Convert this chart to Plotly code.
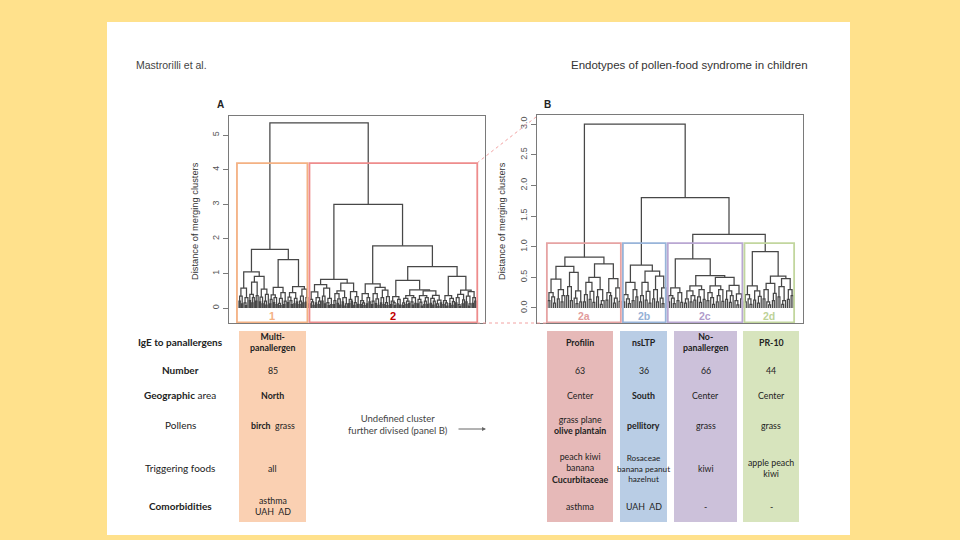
import plotly.graph_objects as go

W, H = 960, 540

# ---------------- data ----------------
header_left = "Mastrorilli et al."
header_right = "Endotypes of pollen-food syndrome in children"

# dendrogram trees: [merge height, left, right]; 0 = single leaf
cluster1_tree = [1.7,
    [1.05,
        [0.58, [0.35, [0.2, 0, 0], [0.12, 0, 0]], [0.3, [0.15, 0, [0.07, 0, 0]], 0]],
        [0.92,
            [0.75, [0.4, [0.22, 0, 0], [0.3, [0.15, 0, 0], 0]], [0.36, [0.2, 0, 0], 0]],
            [0.55, [0.32, [0.18, 0, 0], [0.12, 0, 0]], [0.4, [0.2, 0, [0.09, 0, 0]], 0]]]],
    [1.4,
        [0.6,
            [0.38, [0.25, [0.12, 0, 0], 0], [0.3, [0.16, 0, 0], [0.1, 0, 0]]],
            [0.45, [0.28, [0.14, 0, [0.07, 0, 0]], 0], [0.2, [0.1, 0, 0], 0]]],
        [0.62,
            [0.45, [0.32, [0.16, 0, 0], [0.22, 0, [0.1, 0, 0]]], [0.28, [0.12, 0, 0], [0.18, 0, 0]]],
            [0.55, [0.35, [0.2, [0.1, 0, 0], 0], [0.15, 0, 0]], [0.3, [0.17, 0, 0], 0]]]]]

tree_2a = [0.83,
    [0.68,
        [0.47, [0.25, [0.12, 0, 0], [0.18, 0, [0.08, 0, 0]]], [0.3, [0.15, 0, 0], [0.2, [0.1, 0, 0], 0]]],
        [0.58, [0.35, [0.2, 0, 0], [0.12, 0, 0]], [0.28, [0.16, 0, [0.07, 0, 0]], [0.1, 0, 0]]]],
    [0.72,
        [0.5, [0.42, [0.22, [0.1, 0, 0], 0], [0.27, [0.14, 0, 0], [0.09, 0, 0]]], [0.3, [0.18, 0, 0], [0.12, [0.06, 0, 0], 0]]],
        [0.48, [0.25, [0.13, 0, 0], [0.2, 0, 0]], [0.33, [0.16, [0.08, 0, 0], 0], [0.11, 0, 0]]]]]

tree_2b = [0.7,
    [0.42, [0.22, [0.1, 0, 0], [0.15, 0, [0.07, 0, 0]]], [0.3, [0.12, 0, 0], [0.18, 0, 0]]],
    [0.6,
        [0.42, [0.2, [0.1, 0, 0], 0], [0.27, [0.13, 0, 0], [0.08, 0, 0]]],
        [0.52, [0.3, [0.15, 0, 0], [0.1, 0, 0]], [0.33, [0.16, 0, [0.07, 0, 0]], 0]]]]

tree_2c = [0.8,
    [0.33, [0.2, [0.1, 0, 0], [0.16, 0, [0.07, 0, 0]]], [0.25, [0.12, 0, 0], [0.09, 0, 0]]],
    [0.53,
        [0.36, [0.28, [0.15, [0.08, 0, 0], 0], [0.2, [0.1, 0, 0], [0.13, 0, 0]]], [0.3, [0.18, 0, [0.09, 0, 0]], [0.14, 0, 0]]],
        [0.5,
            [0.36, [0.25, [0.12, 0, 0], [0.17, 0, [0.06, 0, 0]]], [0.3, [0.2, [0.1, 0, 0], 0], [0.11, 0, 0]]],
            [0.37, [0.28, [0.14, 0, 0], [0.2, [0.09, 0, 0], 0]], [0.23, [0.12, 0, [0.05, 0, 0]], [0.15, 0, 0]]]]]]

tree_2d = [0.92,
    [0.36, [0.22, [0.1, 0, 0], [0.15, 0, [0.06, 0, 0]]], [0.28, [0.13, 0, 0], [0.19, [0.08, 0, 0], 0]]],
    [0.52,
        [0.4, [0.3, [0.15, 0, 0], [0.1, 0, [0.05, 0, 0]]], [0.24, [0.12, 0, 0], 0]],
        [0.48, [0.35, [0.18, 0, 0], [0.12, [0.06, 0, 0], 0]], [0.3, [0.14, 0, 0], [0.2, 0, 0]]]]]

cluster2_tree = [3.0, tree_2a, [1.8, tree_2b, [1.2, tree_2c, tree_2d]]]
root_height_A = 5.35

yticks_A = [0, 1, 2, 3, 4, 5]
yticks_B = [0.0, 0.5, 1.0, 1.5, 2.0, 2.5, 3.0]
cut_height_A = 4.19
cut_height_B = 1.06
y_title = "Distance of merging clusters"

row_labels = ["<b>IgE to panallergens</b>", "<b>Number</b>", "<b>Geographic</b> area",
              "Pollens", "Triggering foods", "<b>Comorbidities</b>"]
cluster_names = ["1", "2a", "2b", "2c", "2d"]
panallergen = ["<b>Multi-<br>panallergen</b>", "<b>Profilin</b>", "<b>nsLTP</b>",
               "<b>No-<br>panallergen</b>", "<b>PR-10</b>"]
counts = [85, 63, 36, 66, 44]
geo = ["<b>North</b>", "Center", "<b>South</b>", "Center", "Center"]
pollens = ["<b>birch</b>  grass", "grass plane<br><b>olive plantain</b>", "<b>pellitory</b>", "grass", "grass"]
foods = ["all", "peach kiwi<br>banana<br><b>Cucurbitaceae</b>", "Rosaceae<br>banana peanut<br>hazelnut",
         "kiwi", "apple peach<br>kiwi"]
comorb = ["asthma<br>UAH  AD", "asthma", "UAH  AD", "-", "-"]
undefined_text = "Undefined cluster<br>further divised (panel B)"

# ---------------- styles ----------------
BG = "#FFE18C"
col_fill = ["#FAD0B2", "#E6B9B8", "#B9CDE5", "#CCC1DA", "#D7E4BD"]
box_col = {"1": "#F4B183", "2": "#EE8C8C", "2a": "#E6A3A3", "2b": "#98B4D9", "2c": "#B9A7D2", "2d": "#C2D69E"}
lab_col = {"1": "#F4B183", "2": "#C00000", "2a": "#E29C9C", "2b": "#95B1D6", "2c": "#B09CCB", "2d": "#BDD297"}
LINE = "#474747"
FRAME = "#7a7a7a"
TXT = "#222222"


def px(x):
    return x / W


def py(y):
    return 1 - y / H


def n_leaves(t):
    if not isinstance(t, list):
        return 1
    return n_leaves(t[1]) + n_leaves(t[2])


def segments(tree):
    xs, ys = [], []
    cnt = [0]

    def rec(node):
        if not isinstance(node, list):
            x = cnt[0]
            cnt[0] += 1
            return x, 0.0
        h, a, b = node
        xa, ha = rec(a)
        xb, hb = rec(b)
        xs.extend([xa, xa, xb, xb, None])
        ys.extend([ha, h, h, hb, None])
        return (xa + xb) / 2, h

    rec(tree)
    return xs, ys


def note(x, y, text, size, color="#2b2b2b", family="Liberation Sans", xanchor="center", xref="paper",
         yref="paper", **kw):
    return dict(xref=xref, yref=yref, x=x, y=y, text=text, showarrow=False, xanchor=xanchor,
                yanchor="middle", align="center", font=dict(size=size, color=color, family=family), **kw)


tree_A = [root_height_A, cluster1_tree, cluster2_tree]
xA, yA = segments(tree_A)
xB, yB = segments(cluster2_tree)

n1 = n_leaves(cluster1_tree)
nA = n_leaves(tree_A)
nsub = [n_leaves(t) for t in (tree_2a, tree_2b, tree_2c, tree_2d)]
nB = sum(nsub)

# panel geometry (pixels)
A_frame = (229, 485, 116, 323)
B_frame = (537, 803, 115, 323)
A_leaf = (239, 476)
B_leaf = (548, 793)

uA = (A_leaf[1] - A_leaf[0]) / (nA - 1)
xrA = [-(A_leaf[0] - A_frame[0]) / uA, (nA - 1) + (A_frame[1] - A_leaf[1]) / uA]
uB = (B_leaf[1] - B_leaf[0]) / (nB - 1)
xrB = [-(B_leaf[0] - B_frame[0]) / uB, (nB - 1) + (B_frame[1] - B_leaf[1]) / uB]
yrA = [-0.43, 5.55]
yrB = [-0.245, 3.15]

fig = go.Figure()
fig.add_trace(go.Scatter(x=xA, y=yA, mode="lines", line=dict(color=LINE, width=1.25),
                         xaxis="x", yaxis="y", hoverinfo="skip", showlegend=False))
fig.add_trace(go.Scatter(x=xB, y=yB, mode="lines", line=dict(color=LINE, width=1.25),
                         xaxis="x2", yaxis="y2", hoverinfo="skip", showlegend=False))

shapes = []
annotations = []

# white slide
shapes.append(dict(type="rect", xref="paper", yref="paper", x0=px(107), x1=px(850), y0=py(535), y1=py(22),
                   fillcolor="white", line=dict(width=0), layer="below"))

# cluster boxes in A
gA = 0.8
boxesA = [("1", -1.6, n1 - 0.5 - gA), ("2", n1 - 0.5 + gA, nA - 1 + 1.0)]
for name, x0, x1 in boxesA:
    shapes.append(dict(type="rect", xref="x", yref="y", x0=x0, x1=x1, y0=-0.41, y1=cut_height_A,
                       line=dict(color=box_col[name], width=1.8)))
    annotations.append(note((x0 + x1) / 2, -0.22, "<b>%s</b>" % name, 11, lab_col[name], xref="x", yref="y"))

# cluster boxes in B
gB = 0.55
start = 0
boxesB = []
for name, n in zip(cluster_names[1:], nsub):
    x0 = start - 0.5 + (gB if start > 0 else -0.1)
    x1 = start + n - 0.5 - (gB if start + n < nB else -0.1)
    boxesB.append((name, x0, x1))
    start += n
for name, x0, x1 in boxesB:
    shapes.append(dict(type="rect", xref="x2", yref="y2", x0=x0, x1=x1, y0=-0.235, y1=cut_height_B,
                       line=dict(color=box_col[name], width=1.8)))
    annotations.append(note((x0 + x1) / 2, -0.125, "<b>%s</b>" % name, 10.5, lab_col[name], xref="x2", yref="y2"))

# dotted zoom lines
shapes.append(dict(type="line", xref="paper", yref="paper", x0=px(477), y0=py(163), x1=px(536), y1=py(117),
                   line=dict(color="#F2A2A2", width=1, dash="dot")))
shapes.append(dict(type="line", xref="paper", yref="paper", x0=px(477), y0=py(323), x1=px(547), y1=py(323),
                   line=dict(color="#F2A2A2", width=1, dash="dot")))

# headers
annotations.append(note(px(134), py(65), header_left, 10.5, "#444", xanchor="left"))
annotations.append(note(px(810), py(65), header_right, 11.5, "#333", xanchor="right"))

# panel letters and y titles
for letter, x in (("A", 220), ("B", 547)):
    annotations.append(note(px(x), py(104), "<b>%s</b>" % letter, 10, "#222"))
for x in (195, 502):
    annotations.append(note(px(x), py(221), y_title, 9.3, "#333", textangle=-90))

# table
row_y = [342, 370, 395, 425, 468, 506]
col_x = [(239, 306), (547, 613), (620, 667), (674, 737), (743, 799)]
TF = "Lato"
for (x0, x1), fc in zip(col_x, col_fill):
    shapes.append(dict(type="rect", xref="paper", yref="paper", x0=px(x0), x1=px(x1), y0=py(522), y1=py(331),
                       fillcolor=fc, line=dict(width=0), layer="below"))
for lab, y in zip(row_labels, row_y):
    annotations.append(note(px(180), py(y), lab, 10, TXT, TF))
rows = [panallergen, [str(c) for c in counts], geo, pollens, foods, comorb]
for ci, (x0, x1) in enumerate(col_x):
    for ri, y in enumerate(row_y):
        size = 8.2 if (ci == 2 and ri == 4) else 8.8
        annotations.append(note(px((x0 + x1) / 2), py(y), rows[ri][ci], size, TXT, TF))

annotations.append(note(px(398), py(424), undefined_text, 9.5, "#444", TF))
annotations.append(dict(xref="paper", yref="paper", x=px(486), y=py(429), ax=-29, ay=0,
                        text="", showarrow=True, arrowhead=2, arrowsize=0.8,
                        arrowwidth=1, arrowcolor="#666"))

axis_common = dict(showline=True, mirror=True, linecolor=FRAME, linewidth=1.3, showgrid=False, zeroline=False)

fig.update_layout(
    width=W, height=H, margin=dict(l=0, r=0, t=0, b=0),
    paper_bgcolor=BG, plot_bgcolor="white", showlegend=False,
    xaxis=dict(domain=[px(A_frame[0]), px(A_frame[1])], range=xrA, showticklabels=False, ticks="",
               anchor="y", **axis_common),
    yaxis=dict(domain=[py(A_frame[3]), py(A_frame[2])], range=yrA, tickvals=yticks_A,
               ticktext=[str(v) for v in yticks_A], ticks="outside", ticklen=5, tickcolor=FRAME,
               tickangle=-90, tickfont=dict(size=9, color="#555", family="Liberation Sans"),
               anchor="x", **axis_common),
    xaxis2=dict(domain=[px(B_frame[0]), px(B_frame[1])], range=xrB, showticklabels=False, ticks="",
                anchor="y2", **axis_common),
    yaxis2=dict(domain=[py(B_frame[3]), py(B_frame[2])], range=yrB, tickvals=yticks_B,
                ticktext=["%.1f" % v for v in yticks_B], ticks="outside", ticklen=5, tickcolor=FRAME,
                tickangle=-90, tickfont=dict(size=9, color="#555", family="Liberation Sans"),
                anchor="x2", **axis_common),
    shapes=shapes, annotations=annotations,
)

fig.write_html("out.html", config={"displayModeBar": False},
               post_script="document.body.style.margin='0';document.body.style.overflow='hidden';")
